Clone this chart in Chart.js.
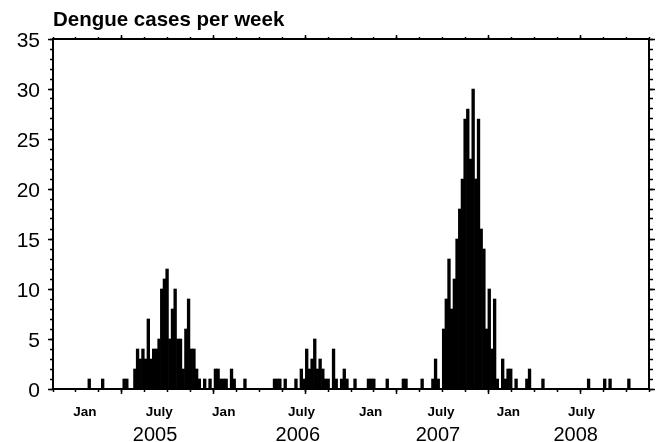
<!DOCTYPE html>
<html>
<head>
<meta charset="utf-8">
<script src="https://cdn.jsdelivr.net/npm/chart.js@4.4.1/dist/chart.umd.min.js"></script>
<style>
  html, body { margin: 0; padding: 0; background: #fff; }
  #wrap { width: 659px; height: 442px; }
</style>
</head>
<body>
<div id="wrap"><canvas id="dengueChart" width="659" height="442"></canvas></div>
<script>
// Weeks on the x axis, counted from the left edge of the plot
const weekCount = 222;

// Weeks that had cases, and the number of cases in each
const caseWeeks = [
  13, 18, 26, 27, 30, 31, 32, 33, 34, 35, 36, 37, 38, 39, 40, 41, 42, 43, 44, 45,
  46, 47, 48, 49, 50, 51, 52, 53, 54, 56, 58, 60, 61, 62, 63, 64, 66, 67, 71,
  82, 83, 84, 86, 90, 92, 93, 94, 95, 96, 97, 98, 99, 100, 101, 102, 104, 105,
  107, 108, 109, 112, 117, 118, 119, 124, 130, 131, 137,
  141, 142, 143, 145, 146, 147, 148, 149, 150, 151, 152, 153, 154, 155, 156, 157,
  158, 159, 160, 161, 162, 163, 164, 165, 167, 168, 169, 170, 172, 176, 177,
  182, 199, 205, 207, 214
];
const caseCounts = [
  1, 1, 1, 1, 2, 4, 3, 4, 3, 7, 3, 4, 4, 5, 10, 11, 12, 5, 8, 10,
  5, 5, 2, 6, 9, 4, 4, 2, 1, 1, 1, 2, 2, 1, 1, 1, 2, 1, 1,
  1, 1, 1, 1, 1, 2, 1, 4, 2, 3, 5, 2, 3, 2, 1, 1, 4, 1,
  1, 2, 1, 1, 1, 1, 1, 1, 1, 1, 1,
  1, 3, 1, 6, 9, 13, 8, 11, 15, 18, 21, 27, 28, 23, 30, 21,
  27, 16, 14, 6, 10, 4, 9, 1, 3, 1, 2, 2, 1, 1, 2,
  1, 1, 1, 1, 1
];

// Tick labels (positions in weeks)
const monthWeeks = [11.9, 39.6, 63.6, 92.6, 118.3, 144.5, 169.6, 196.9];
const monthNames = ["Jan", "July", "Jan", "July", "Jan", "July", "Jan", "July"];
const yearWeeks = [38.0, 91.2, 143.4, 194.7];
const yearNames = ["2005", "2006", "2007", "2008"];

// tick marks along the top and bottom frame: 26 intervals, longer ones every 4th
const tickCount = 26;
const majorTickIdx = [3, 7, 11, 15, 19, 23];

const FONT = "'Liberation Sans', Arial, sans-serif";

const weekLabels = Array.from({ length: weekCount }, (_, i) => i);
const weeklyCases = new Array(weekCount).fill(0);
caseWeeks.forEach((w, i) => { weeklyCases[w] = caseCounts[i]; });

const minorTicks = Array.from({ length: tickCount + 1 }, (_, j) => j * weekCount / tickCount);
const majorTicks = majorTickIdx.map(j => j * weekCount / tickCount);

const setTicks = vals => scale => { scale.ticks = vals.map(v => ({ value: v })); };
const noSize = scale => { if (scale.isHorizontal()) scale.height = 0; else scale.width = 0; };

// helper for a frame axis that only draws tick marks
function tickAxis(position, weight, len, opts = {}) {
  const horiz = position === "top" || position === "bottom";
  return Object.assign({
    type: "linear",
    position: position,
    weight: weight,
    min: 0,
    max: horiz ? weekCount : 35,
    offset: false,
    grid: { display: true, offset: false, drawOnChartArea: false, drawTicks: true, tickLength: len, color: "#000", tickWidth: 1.5 },
    border: { display: false },
    ticks: { display: false },
    afterFit: noSize
  }, opts);
}

// axis that only carries text labels under the plot
function labelAxis(weight, positions, names, font, pad, height) {
  return {
    type: "linear", position: "bottom", weight: weight, min: 0, max: weekCount,
    offset: false,
    afterBuildTicks: setTicks(positions),
    grid: { display: false, offset: false, drawTicks: false },
    border: { display: false },
    ticks: {
      autoSkip: false, maxRotation: 0, minRotation: 0, padding: pad,
      color: "#000", font: font,
      callback: (v, i) => names[i]
    },
    afterFit: s => { s.height = height; }
  };
}

new Chart(document.getElementById("dengueChart"), {
  type: "bar",
  data: {
    labels: weekLabels,
    datasets: [{
      data: weeklyCases,
      backgroundColor: "#000",
      borderWidth: 0,
      barPercentage: 1.0,
      categoryPercentage: 1.0,
      xAxisID: "x",
      yAxisID: "y"
    }]
  },
  options: {
    responsive: false,
    animation: false,
    layout: { padding: 0 },
    plugins: { legend: { display: false }, tooltip: { enabled: false } },
    scales: {
      x: { type: "category", display: false },

      // top frame with title
      xTop: tickAxis("top", 1, 2, {
        afterBuildTicks: setTicks(minorTicks),
        border: { display: true, color: "#000", width: 2 },
        title: {
          display: true,
          text: "Dengue cases per week",
          align: "start",
          color: "#000",
          font: { family: FONT, size: 20.5, weight: "bold" },
          padding: { top: 8, bottom: 0 }
        },
        afterFit: s => { s.height = 39; }
      }),
      xTopMajor: tickAxis("top", 0, 4, { afterBuildTicks: setTicks(majorTicks) }),

      // bottom frame
      xBottom: tickAxis("bottom", 0, 3, {
        afterBuildTicks: setTicks(minorTicks),
        border: { display: true, color: "#000", width: 2 }
      }),
      xBottomMajor: tickAxis("bottom", 1, 5, { afterBuildTicks: setTicks(majorTicks) }),
      xMonth: labelAxis(2, monthWeeks, monthNames, { family: FONT, size: 13.5, weight: "bold" }, 15, 33),
      xYear: labelAxis(3, yearWeeks, yearNames, { family: FONT, size: 20 }, 1, 20),

      // left axis with labels
      y: {
        type: "linear", position: "left", weight: 1, min: 0, max: 35,
        grid: { display: true, drawOnChartArea: false, drawTicks: true, tickLength: 5, color: "#000", tickWidth: 1.5 },
        border: { display: true, color: "#000", width: 2 },
        ticks: {
          stepSize: 5, padding: 8, labelOffset: 2, color: "#000",
          font: { family: FONT, size: 21 }
        },
        afterFit: s => { s.width = 53; }
      },
      yMinor: tickAxis("left", 0, 3, { ticks: { display: false, stepSize: 1 } }),

      // right frame
      yRight: tickAxis("right", 1, 6, {
        ticks: { display: false, stepSize: 5 },
        border: { display: true, color: "#000", width: 2 },
        afterFit: s => { s.width = 10; }
      }),
      yRightMinor: tickAxis("right", 0, 4, { ticks: { display: false, stepSize: 1 } })
    }
  }
});
</script>
</body>
</html>
